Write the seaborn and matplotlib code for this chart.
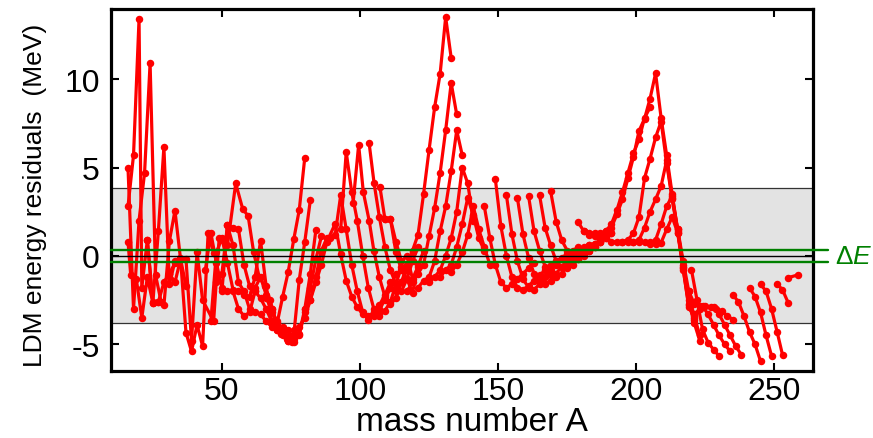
import numpy as np
import pandas as pd
import matplotlib
matplotlib.use("Agg")
import matplotlib.pyplot as plt
import seaborn as sns
from matplotlib.transforms import blended_transform_factory

# ---------------- data (isotopic chains) ----------------
light_A = [
    [16, 18, 20, 22, 24, 26, 28],
    [16, 18, 20, 21, 23, 25],
    [16, 17, 19, 21, 23, 25, 27, 29, 31, 33],
    [23, 25, 27, 29, 31, 33, 35, 37],
    [27, 29, 31, 33, 35, 37, 39, 41, 43, 45, 47],
    [31, 33, 35, 37, 39, 41, 43, 47, 49],
]
light_E = [
    [5.0, -3.0, 2.0, 4.7, 10.9, -1.1, -2.6],
    [2.8, 5.7, 13.4, -1.8, 0.9, -2.65],
    [0.8, -1.1, -1.3, -3.5, -1.2, -2.65, 1.42, 6.15, -1.6, -0.3],
    [0.9, -2.6, -2.6, -2.8, 0.85, 2.56, -0.15, -1.7],
    [-2.6, -1.5, -1.0, -0.4, -0.1, -4.35, -5.4, -3.9, -5.1, 1.27, 0.18],
    [-1.0, -1.5, -0.2, -0.2, -4.8, 0.24, -2.5, -3.7, 1.0],
]

mid_A = [
    [44, 46, 48, 50, 52, 54, 56, 58, 60, 62],
    [46, 48, 50, 52, 54, 56, 58, 60, 62, 64, 66, 68],
    [48, 50, 52, 54, 56, 58, 60, 62, 64, 66, 68, 70],
    [50, 52, 54, 56, 58, 60, 62, 64, 66, 68, 70, 72, 74],
    [52, 55, 57.5, 59.5, 61.5, 63.5, 65.5, 67.5, 69.5, 71.5, 73.5, 75.5],
    [62, 64, 66, 68, 70, 72, 74, 76, 78, 80],
    [66, 68, 70, 72, 74, 76, 78, 80, 82],
    [68, 70, 72, 74, 76, 78, 80, 82, 84],
    [72, 74, 76, 78, 80, 82, 84, 86],
    [76, 78, 80, 82, 84, 86, 88],
]
mid_E = [
    [-0.8, 1.3, -0.4, -1.8, -2.0, -2.0, -3.0, -3.4, -3.2, -2.0],
    [-3.7, 0.2, 1.0, -0.4, -1.9, -2.0, -2.2, -2.3, -1.2, 0.85, -1.7, -3.7],
    [-1.5, -1.0, 1.73, 0.6, -1.5, -2.0, -3.0, -3.2, -3.3, -3.7, -4.0, -4.2],
    [-2.0, 1.73, 1.6, 1.5, -0.5, -1.7, -2.0, -2.4, -3.0, -3.7, -4.2, -4.5, -4.8],
    [0.6, 4.1, 2.67, 2.25, 0.2, -1.2, -1.7, -2.5, -3.8, -4.4, -4.7, -4.85],
    [-1.8, -1.2, -2.2, -3.0, -3.8, -2.3, -0.9, 0.93, 2.6, 5.56],
    [-2.4, -3.0, -3.8, -4.4, -4.8, -4.5, -1.35, 0.8, 3.14],
    [-3.2, -3.7, -4.2, -4.6, -4.85, -4.4, -3.0, -1.0, 1.44],
    [-4.0, -4.2, -4.7, -4.45, -3.2, -1.8, -0.2, 1.1],
    [-4.2, -4.0, -3.5, -2.5, -1.2, 0.3, 1.0],
]

zr_A = [
    [80, 82, 84, 86, 88, 91, 93, 95, 97, 99, 101, 103, 105, 107, 109, 111],
    [89, 91, 93, 95, 97, 99, 101, 103, 105, 107, 109, 111, 113],
    [93, 95, 97, 99, 101, 103, 105, 107, 109, 111, 113, 115],
    [97.5, 99.5, 101.2, 103.3, 105, 107, 109, 111, 113, 115, 117, 119],
    [103.3, 105.1, 107, 109, 111, 113, 115, 117, 119, 121],
    [107.2, 109, 111, 113, 115, 117, 119, 121],
    [109, 111, 113, 115, 117, 119, 121, 123],
]
zr_E = [
    [-3.0, -2.5, -1.5, -0.5, 0.8, 1.82, 0.08, -1.4, -2.3, -2.9, -3.3, -3.4, -3.2, -2.8, -2.2, -1.5],
    [1.0, 1.2, 3.43, 1.5, -0.5, -2.0, -3.2, -3.63, -3.4, -3.0, -2.5, -1.8, -1.0],
    [1.5, 5.88, 3.6, 2.0, 0.0, -1.8, -3.0, -3.4, -3.1, -2.6, -1.6, -0.6],
    [3.0, 6.28, 3.6, 2.0, 0.3, -1.2, -2.3, -2.7, -2.4, -1.5, -0.5, 0.2],
    [6.37, 4.1, 2.2, 0.5, -0.8, -1.6, -2.0, -1.3, -0.3, 0.5],
    [3.9, 2.1, 2.1, 0.2, -0.8, -1.3, -2.1, -0.5],
    [2.1, 2.1, 0.8, -0.3, 0.0, -1.3, -0.6, 0.3],
]

sn_A = [
    [113, 115, 117, 119, 121, 123, 125, 127, 129, 131, 133],
    [117, 119, 121, 123, 125, 127, 129, 131, 133, 135],
    [121, 123, 125, 127, 129, 131, 133, 135, 137],
    [125, 127, 129, 131, 133, 135, 137, 139, 141],
    [129, 131, 133, 135, 137, 139, 141, 143, 145],
    [133, 135, 137, 139, 141, 143, 145, 147],
]
sn_E = [
    [-2.0, -1.5, -0.8, 0.3, 1.2, 3.5, 6.0, 8.4, 10.3, 13.5, 11.2],
    [-2.0, -1.5, -1.0, -0.5, 1.12, 2.7, 4.7, 7.1, 9.78, 8.0],
    [-1.8, -1.4, -1.2, -0.3, 1.4, 2.8, 4.8, 7.1, 5.7],
    [-1.5, -1.2, -0.8, 0.0, 1.0, 2.5, 5.0, 4.1, 2.0],
    [-1.2, -0.8, -0.5, 0.5, 1.8, 3.3, 2.3, 1.0, 0.3],
    [-0.9, -0.5, 0.2, 1.2, 2.8, 1.5, 0.5, -0.5],
]

rare_A = [
    [145, 147, 149, 151, 153, 155, 157, 159, 161, 163],
    [149, 151, 153, 155, 157, 159, 161, 163, 165, 167, 169, 171, 173, 175, 177, 179],
    [153, 155, 157, 159, 161, 163, 165, 167, 169, 171, 173, 175, 177, 179, 181, 183],
    [157, 159, 161, 163, 165, 167, 169, 171, 173, 175, 177, 179, 181, 183, 185, 187],
    [161, 163, 165, 167, 169, 171, 173, 175, 177, 179, 181, 183, 185, 187, 189],
    [165, 167, 169, 171, 173, 175, 177, 179, 181, 183, 185, 187, 189, 191],
    [169, 171, 173, 175, 177, 179, 181, 183, 185, 187, 189, 191],
]
rare_E = [
    [2.8, 1.0, -0.5, -1.5, -1.8, -1.6, -1.3, -1.0, -0.7, -0.4],
    [4.33, 1.67, 0.0, -1.2, -1.8, -1.9, -1.7, -1.4, -1.1, -0.8, -0.5, -0.3, -0.1, 0.1, 0.3, 0.5],
    [3.43, 1.22, -0.3, -1.3, -1.8, -1.9, -1.6, -1.2, -0.8, -0.5, -0.2, 0.0, 0.2, 0.4, 0.5, 0.6],
    [3.25, 1.22, -0.1, -1.0, -1.5, -1.6, -1.4, -1.0, -0.6, -0.3, 0.0, 0.2, 0.4, 0.6, 0.7, 0.8],
    [3.4, 1.4, 0.3, -0.6, -1.1, -1.2, -1.0, -0.6, -0.2, 0.1, 0.3, 0.5, 0.7, 0.9, 1.0],
    [3.43, 1.6, 0.6, -0.3, -0.6, -0.7, -0.5, -0.2, 0.1, 0.3, 0.5, 0.8, 1.0, 1.3],
    [3.66, 1.94, 0.9, 0.3, 0.0, -0.2, 0.0, 0.3, 0.5, 0.8, 1.1, 1.3],
]

pb_A = [
    [179, 181, 183, 185, 187, 189, 191, 193, 195, 197, 199, 201, 203, 205],
    [181, 183, 185, 187, 189, 191, 193, 195, 197, 199, 201, 203, 205, 207, 209, 211, 213, 215, 217, 219, 221, 223],
    [191, 193, 195, 197, 199, 201, 203, 205, 207, 209, 211, 213, 215, 217, 219, 221],
    [195, 197, 199, 201, 203, 205, 207, 209, 211, 213, 215, 217, 219, 221],
    [199, 201, 203, 205, 207, 209, 211, 213, 215, 217, 219, 221, 223],
    [205, 207, 209, 211, 213, 215, 217, 219, 221, 223],
]
pb_E = [
    [1.9, 1.4, 1.2, 1.1, 1.2, 1.4, 1.8, 2.6, 3.6, 4.7, 5.8, 6.6, 7.8, 8.4],
    [1.4, 1.3, 1.3, 1.3, 1.4, 1.6, 2.35, 3.2, 4.4, 5.6, 7.07, 7.76, 8.9, 10.33, 7.8, 5.7, 3.5, 1.4, -0.7, -2.9, -3.4, -4.5],
    [0.8, 0.8, 0.8, 0.9, 1.3, 2.2, 4.4, 5.5, 6.7, 7.6, 5.25, 3.2, 1.5, -0.3, -2.0, -3.5],
    [0.8, 0.8, 0.76, 0.9, 1.6, 2.5, 3.2, 3.95, 5.4, 3.3, 1.3, -0.8, -2.8, -3.6],
    [0.76, 0.76, 0.76, 0.76, 0.9, 1.8, 2.8, 3.4, 1.5, -0.6, -2.7, -3.3, -3.0],
    [0.65, 0.7, 0.75, 1.5, 2.2, 1.3, -0.5, -2.5, -3.8, -4.8],
]

act_A = [
    [219, 221, 223, 225, 227, 229, 231, 233, 235],
    [220, 222, 224, 226, 228, 230],
    [224, 226, 228, 230, 232, 234],
    [228, 230, 232, 234, 236, 238],
    [235, 237, 239, 241, 243, 245],
    [241, 243, 245, 247, 249],
    [245, 247, 249, 251, 253],
    [250.8, 252.9, 255],
    [255, 258.6],
]
act_E = [
    [-2.0, -2.7, -2.85, -2.85, -2.9, -3.0, -3.1, -3.4, -3.6],
    [-0.8, -2.5, -4.16, -4.9, -5.3, -5.67],
    [-2.85, -3.3, -3.9, -4.5, -5.0, -5.4],
    [-2.9, -3.3, -3.9, -4.5, -5.1, -5.58],
    [-2.2, -2.6, -3.4, -4.3, -5.0, -5.96],
    [-1.8, -2.3, -3.2, -4.5, -5.67],
    [-1.6, -2.0, -3.0, -4.3, -5.63],
    [-1.57, -1.9, -2.65],
    [-1.23, -1.07],
]

band_half = 3.82      # grey band (rms)
dE_half = 0.34        # green Delta E lines
xticks = [50, 100, 150, 200, 250]
yticks = [-5, 0, 5, 10]

# ---------------- build table ----------------
groups = [(light_A, light_E), (mid_A, mid_E), (zr_A, zr_E), (sn_A, sn_E),
          (rare_A, rare_E), (pb_A, pb_E), (act_A, act_E)]
rows = []
cid = 0
for As, Es in groups:
    for a, e in zip(As, Es):
        for x, y in zip(a, e):
            rows.append((cid, x, y))
        cid += 1
df = pd.DataFrame(rows, columns=["chain", "A", "E"])

# ---------------- plot ----------------
sns.set_theme(style="ticks")
plt.rcParams["font.family"] = ["Liberation Sans", "DejaVu Sans"]
plt.rcParams["mathtext.fontset"] = "custom"
plt.rcParams["mathtext.rm"] = "Liberation Sans"
plt.rcParams["mathtext.it"] = "Liberation Sans:italic"
for k in ("text.color", "axes.labelcolor", "xtick.color", "ytick.color", "axes.edgecolor"):
    plt.rcParams[k] = "black"

fig = plt.figure(figsize=(8.73, 4.39), dpi=100)
ax = fig.add_axes([0.127, 0.153, 0.804, 0.824])

ax.axhspan(-band_half, band_half, facecolor="#e3e3e3", edgecolor="none", zorder=0)
ax.axhline(band_half, color="#333333", lw=0.9, zorder=1)
ax.axhline(-band_half, color="#333333", lw=0.9, zorder=1)

sns.lineplot(data=df, x="A", y="E", units="chain", estimator=None, sort=False,
             color="#ff0000", lw=2.3, marker="o", markersize=5.4,
             markeredgewidth=0, ax=ax, legend=False, zorder=3)

ax.axhline(0, color="black", lw=1.0, zorder=4)
for yv in (dE_half, -dE_half):
    ax.axhline(yv, xmin=0, xmax=1.021, color="#008000", lw=1.7, clip_on=False, zorder=5)
trans = blended_transform_factory(ax.transAxes, ax.transData)
ax.text(1.031, 0, r"$\Delta E$", transform=trans, color="#008000",
        fontsize=19, va="center", ha="left")

ax.set_xlim(9.8, 263.9)
ax.set_ylim(-6.5, 13.96)
ax.set_xticks(xticks)
ax.set_yticks(yticks)
ax.set_yticklabels([str(v) for v in yticks])
ax.tick_params(direction="in", length=6, width=1.5, top=True, right=True,
               labelsize=23, colors="black")
ax.tick_params(axis="x", pad=4)
ax.tick_params(axis="y", pad=8)
for s in ax.spines.values():
    s.set_linewidth(2.3)
    s.set_color("black")
ax.set_xlabel("mass number A", fontsize=24)
ax.xaxis.label.set_va("bottom")
ax.xaxis.set_label_coords(0.514, -0.182)
ax.set_ylabel("LDM energy residuals  (MeV)", fontsize=19)
ax.yaxis.label.set_va("center")
ax.yaxis.set_label_coords(-0.108, 0.489)

fig.savefig("out.png", dpi=100)
